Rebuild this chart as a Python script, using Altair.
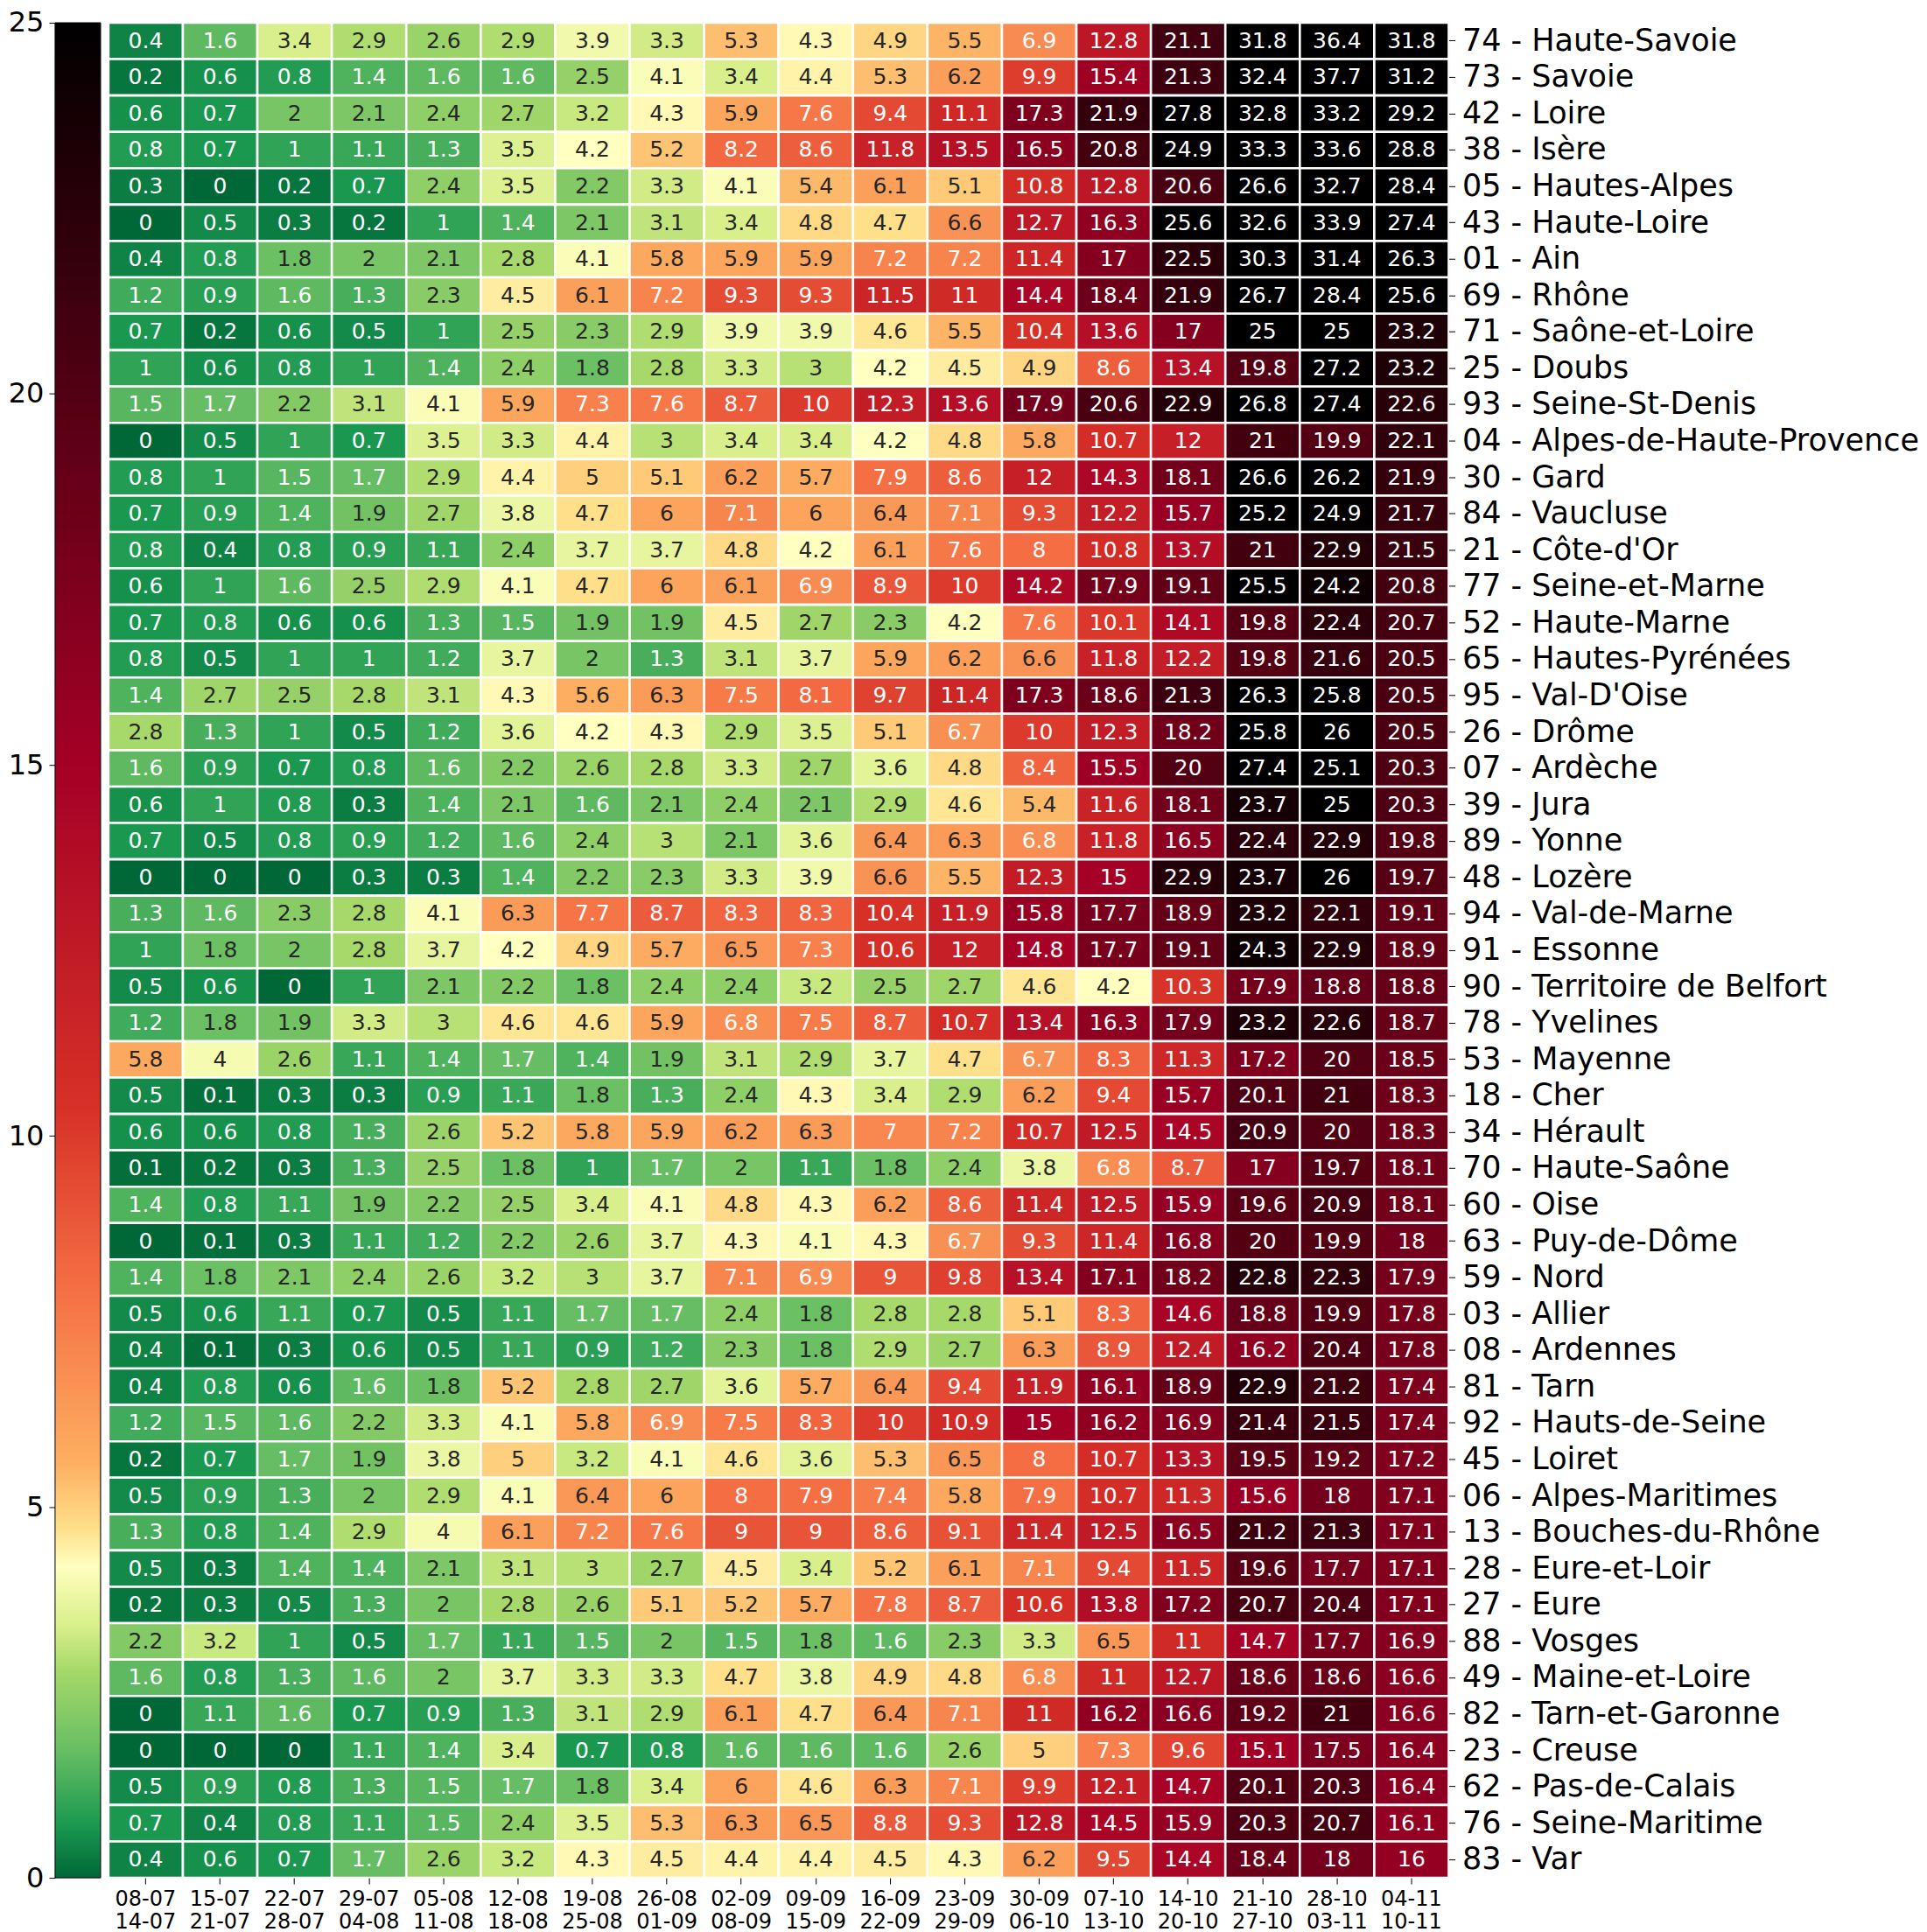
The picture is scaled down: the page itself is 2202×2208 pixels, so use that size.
import altair as alt
import pandas as pd
import numpy as np

week_start = ["08-07", "15-07", "22-07", "29-07", "05-08", "12-08", "19-08", "26-08", "02-09",
              "09-09", "16-09", "23-09", "30-09", "07-10", "14-10", "21-10", "28-10", "04-11"]
week_end = ["14-07", "21-07", "28-07", "04-08", "11-08", "18-08", "25-08", "01-09", "08-09",
            "15-09", "22-09", "29-09", "06-10", "13-10", "20-10", "27-10", "03-11", "10-11"]

departments = [
    "74 - Haute-Savoie", "73 - Savoie", "42 - Loire", "38 - Isère", "05 - Hautes-Alpes",
    "43 - Haute-Loire", "01 - Ain", "69 - Rhône", "71 - Saône-et-Loire", "25 - Doubs",
    "93 - Seine-St-Denis", "04 - Alpes-de-Haute-Provence", "30 - Gard", "84 - Vaucluse",
    "21 - Côte-d'Or", "77 - Seine-et-Marne", "52 - Haute-Marne", "65 - Hautes-Pyrénées",
    "95 - Val-D'Oise", "26 - Drôme", "07 - Ardèche", "39 - Jura", "89 - Yonne", "48 - Lozère",
    "94 - Val-de-Marne", "91 - Essonne", "90 - Territoire de Belfort", "78 - Yvelines",
    "53 - Mayenne", "18 - Cher", "34 - Hérault", "70 - Haute-Saône", "60 - Oise",
    "63 - Puy-de-Dôme", "59 - Nord", "03 - Allier", "08 - Ardennes", "81 - Tarn",
    "92 - Hauts-de-Seine", "45 - Loiret", "06 - Alpes-Maritimes", "13 - Bouches-du-Rhône",
    "28 - Eure-et-Loir", "27 - Eure", "88 - Vosges", "49 - Maine-et-Loire",
    "82 - Tarn-et-Garonne", "23 - Creuse", "62 - Pas-de-Calais", "76 - Seine-Maritime", "83 - Var",
]

incidence = [
    [0.4, 1.6, 3.4, 2.9, 2.6, 2.9, 3.9, 3.3, 5.3, 4.3, 4.9, 5.5, 6.9, 12.8, 21.1, 31.8, 36.4, 31.8],
    [0.2, 0.6, 0.8, 1.4, 1.6, 1.6, 2.5, 4.1, 3.4, 4.4, 5.3, 6.2, 9.9, 15.4, 21.3, 32.4, 37.7, 31.2],
    [0.6, 0.7, 2, 2.1, 2.4, 2.7, 3.2, 4.3, 5.9, 7.6, 9.4, 11.1, 17.3, 21.9, 27.8, 32.8, 33.2, 29.2],
    [0.8, 0.7, 1, 1.1, 1.3, 3.5, 4.2, 5.2, 8.2, 8.6, 11.8, 13.5, 16.5, 20.8, 24.9, 33.3, 33.6, 28.8],
    [0.3, 0, 0.2, 0.7, 2.4, 3.5, 2.2, 3.3, 4.1, 5.4, 6.1, 5.1, 10.8, 12.8, 20.6, 26.6, 32.7, 28.4],
    [0, 0.5, 0.3, 0.2, 1, 1.4, 2.1, 3.1, 3.4, 4.8, 4.7, 6.6, 12.7, 16.3, 25.6, 32.6, 33.9, 27.4],
    [0.4, 0.8, 1.8, 2, 2.1, 2.8, 4.1, 5.8, 5.9, 5.9, 7.2, 7.2, 11.4, 17, 22.5, 30.3, 31.4, 26.3],
    [1.2, 0.9, 1.6, 1.3, 2.3, 4.5, 6.1, 7.2, 9.3, 9.3, 11.5, 11, 14.4, 18.4, 21.9, 26.7, 28.4, 25.6],
    [0.7, 0.2, 0.6, 0.5, 1, 2.5, 2.3, 2.9, 3.9, 3.9, 4.6, 5.5, 10.4, 13.6, 17, 25, 25, 23.2],
    [1, 0.6, 0.8, 1, 1.4, 2.4, 1.8, 2.8, 3.3, 3, 4.2, 4.5, 4.9, 8.6, 13.4, 19.8, 27.2, 23.2],
    [1.5, 1.7, 2.2, 3.1, 4.1, 5.9, 7.3, 7.6, 8.7, 10, 12.3, 13.6, 17.9, 20.6, 22.9, 26.8, 27.4, 22.6],
    [0, 0.5, 1, 0.7, 3.5, 3.3, 4.4, 3, 3.4, 3.4, 4.2, 4.8, 5.8, 10.7, 12, 21, 19.9, 22.1],
    [0.8, 1, 1.5, 1.7, 2.9, 4.4, 5, 5.1, 6.2, 5.7, 7.9, 8.6, 12, 14.3, 18.1, 26.6, 26.2, 21.9],
    [0.7, 0.9, 1.4, 1.9, 2.7, 3.8, 4.7, 6, 7.1, 6, 6.4, 7.1, 9.3, 12.2, 15.7, 25.2, 24.9, 21.7],
    [0.8, 0.4, 0.8, 0.9, 1.1, 2.4, 3.7, 3.7, 4.8, 4.2, 6.1, 7.6, 8, 10.8, 13.7, 21, 22.9, 21.5],
    [0.6, 1, 1.6, 2.5, 2.9, 4.1, 4.7, 6, 6.1, 6.9, 8.9, 10, 14.2, 17.9, 19.1, 25.5, 24.2, 20.8],
    [0.7, 0.8, 0.6, 0.6, 1.3, 1.5, 1.9, 1.9, 4.5, 2.7, 2.3, 4.2, 7.6, 10.1, 14.1, 19.8, 22.4, 20.7],
    [0.8, 0.5, 1, 1, 1.2, 3.7, 2, 1.3, 3.1, 3.7, 5.9, 6.2, 6.6, 11.8, 12.2, 19.8, 21.6, 20.5],
    [1.4, 2.7, 2.5, 2.8, 3.1, 4.3, 5.6, 6.3, 7.5, 8.1, 9.7, 11.4, 17.3, 18.6, 21.3, 26.3, 25.8, 20.5],
    [2.8, 1.3, 1, 0.5, 1.2, 3.6, 4.2, 4.3, 2.9, 3.5, 5.1, 6.7, 10, 12.3, 18.2, 25.8, 26, 20.5],
    [1.6, 0.9, 0.7, 0.8, 1.6, 2.2, 2.6, 2.8, 3.3, 2.7, 3.6, 4.8, 8.4, 15.5, 20, 27.4, 25.1, 20.3],
    [0.6, 1, 0.8, 0.3, 1.4, 2.1, 1.6, 2.1, 2.4, 2.1, 2.9, 4.6, 5.4, 11.6, 18.1, 23.7, 25, 20.3],
    [0.7, 0.5, 0.8, 0.9, 1.2, 1.6, 2.4, 3, 2.1, 3.6, 6.4, 6.3, 6.8, 11.8, 16.5, 22.4, 22.9, 19.8],
    [0, 0, 0, 0.3, 0.3, 1.4, 2.2, 2.3, 3.3, 3.9, 6.6, 5.5, 12.3, 15, 22.9, 23.7, 26, 19.7],
    [1.3, 1.6, 2.3, 2.8, 4.1, 6.3, 7.7, 8.7, 8.3, 8.3, 10.4, 11.9, 15.8, 17.7, 18.9, 23.2, 22.1, 19.1],
    [1, 1.8, 2, 2.8, 3.7, 4.2, 4.9, 5.7, 6.5, 7.3, 10.6, 12, 14.8, 17.7, 19.1, 24.3, 22.9, 18.9],
    [0.5, 0.6, 0, 1, 2.1, 2.2, 1.8, 2.4, 2.4, 3.2, 2.5, 2.7, 4.6, 4.2, 10.3, 17.9, 18.8, 18.8],
    [1.2, 1.8, 1.9, 3.3, 3, 4.6, 4.6, 5.9, 6.8, 7.5, 8.7, 10.7, 13.4, 16.3, 17.9, 23.2, 22.6, 18.7],
    [5.8, 4, 2.6, 1.1, 1.4, 1.7, 1.4, 1.9, 3.1, 2.9, 3.7, 4.7, 6.7, 8.3, 11.3, 17.2, 20, 18.5],
    [0.5, 0.1, 0.3, 0.3, 0.9, 1.1, 1.8, 1.3, 2.4, 4.3, 3.4, 2.9, 6.2, 9.4, 15.7, 20.1, 21, 18.3],
    [0.6, 0.6, 0.8, 1.3, 2.6, 5.2, 5.8, 5.9, 6.2, 6.3, 7, 7.2, 10.7, 12.5, 14.5, 20.9, 20, 18.3],
    [0.1, 0.2, 0.3, 1.3, 2.5, 1.8, 1, 1.7, 2, 1.1, 1.8, 2.4, 3.8, 6.8, 8.7, 17, 19.7, 18.1],
    [1.4, 0.8, 1.1, 1.9, 2.2, 2.5, 3.4, 4.1, 4.8, 4.3, 6.2, 8.6, 11.4, 12.5, 15.9, 19.6, 20.9, 18.1],
    [0, 0.1, 0.3, 1.1, 1.2, 2.2, 2.6, 3.7, 4.3, 4.1, 4.3, 6.7, 9.3, 11.4, 16.8, 20, 19.9, 18],
    [1.4, 1.8, 2.1, 2.4, 2.6, 3.2, 3, 3.7, 7.1, 6.9, 9, 9.8, 13.4, 17.1, 18.2, 22.8, 22.3, 17.9],
    [0.5, 0.6, 1.1, 0.7, 0.5, 1.1, 1.7, 1.7, 2.4, 1.8, 2.8, 2.8, 5.1, 8.3, 14.6, 18.8, 19.9, 17.8],
    [0.4, 0.1, 0.3, 0.6, 0.5, 1.1, 0.9, 1.2, 2.3, 1.8, 2.9, 2.7, 6.3, 8.9, 12.4, 16.2, 20.4, 17.8],
    [0.4, 0.8, 0.6, 1.6, 1.8, 5.2, 2.8, 2.7, 3.6, 5.7, 6.4, 9.4, 11.9, 16.1, 18.9, 22.9, 21.2, 17.4],
    [1.2, 1.5, 1.6, 2.2, 3.3, 4.1, 5.8, 6.9, 7.5, 8.3, 10, 10.9, 15, 16.2, 16.9, 21.4, 21.5, 17.4],
    [0.2, 0.7, 1.7, 1.9, 3.8, 5, 3.2, 4.1, 4.6, 3.6, 5.3, 6.5, 8, 10.7, 13.3, 19.5, 19.2, 17.2],
    [0.5, 0.9, 1.3, 2, 2.9, 4.1, 6.4, 6, 8, 7.9, 7.4, 5.8, 7.9, 10.7, 11.3, 15.6, 18, 17.1],
    [1.3, 0.8, 1.4, 2.9, 4, 6.1, 7.2, 7.6, 9, 9, 8.6, 9.1, 11.4, 12.5, 16.5, 21.2, 21.3, 17.1],
    [0.5, 0.3, 1.4, 1.4, 2.1, 3.1, 3, 2.7, 4.5, 3.4, 5.2, 6.1, 7.1, 9.4, 11.5, 19.6, 17.7, 17.1],
    [0.2, 0.3, 0.5, 1.3, 2, 2.8, 2.6, 5.1, 5.2, 5.7, 7.8, 8.7, 10.6, 13.8, 17.2, 20.7, 20.4, 17.1],
    [2.2, 3.2, 1, 0.5, 1.7, 1.1, 1.5, 2, 1.5, 1.8, 1.6, 2.3, 3.3, 6.5, 11, 14.7, 17.7, 16.9],
    [1.6, 0.8, 1.3, 1.6, 2, 3.7, 3.3, 3.3, 4.7, 3.8, 4.9, 4.8, 6.8, 11, 12.7, 18.6, 18.6, 16.6],
    [0, 1.1, 1.6, 0.7, 0.9, 1.3, 3.1, 2.9, 6.1, 4.7, 6.4, 7.1, 11, 16.2, 16.6, 19.2, 21, 16.6],
    [0, 0, 0, 1.1, 1.4, 3.4, 0.7, 0.8, 1.6, 1.6, 1.6, 2.6, 5, 7.3, 9.6, 15.1, 17.5, 16.4],
    [0.5, 0.9, 0.8, 1.3, 1.5, 1.7, 1.8, 3.4, 6, 4.6, 6.3, 7.1, 9.9, 12.1, 14.7, 20.1, 20.3, 16.4],
    [0.7, 0.4, 0.8, 1.1, 1.5, 2.4, 3.5, 5.3, 6.3, 6.5, 8.8, 9.3, 12.8, 14.5, 15.9, 20.3, 20.7, 16.1],
    [0.4, 0.6, 0.7, 1.7, 2.6, 3.2, 4.3, 4.5, 4.4, 4.4, 4.5, 4.3, 6.2, 9.5, 14.4, 18.4, 18, 16],
]

colorbar_ticks = [0, 5, 10, 15, 20, 25]

# colour scale (green -> yellow -> red -> black)
scale_domain = [0, 0.7, 1.7, 2.8, 3.4, 4.2, 4.7, 5.6, 8.0, 10.4, 15, 25]
scale_range = ["#006837", "#1a9850", "#66bd63", "#a6d96a", "#d9ef8b", "#ffffbf",
               "#fee08b", "#fdae61", "#f46d43", "#d73027", "#a50026", "#000000"]

week_keys = [f"{s}|{e}" for s, e in zip(week_start, week_end)]

rows = []
for dept, vals in zip(departments, incidence):
    for wk, v in zip(week_keys, vals):
        rows.append({"dept": dept, "week": wk, "v": v, "label": f"{v:g}"})
df = pd.DataFrame(rows)


# text colour: dark on light cells, white on dark ones (relative luminance rule)
def _rgb(h):
    h = h.lstrip("#")
    return np.array([int(h[i:i + 2], 16) for i in (0, 2, 4)], dtype=float)


def _color_at(v):
    v = min(max(v, scale_domain[0]), scale_domain[-1])
    for k in range(len(scale_domain) - 1):
        a, b = scale_domain[k], scale_domain[k + 1]
        if a <= v <= b:
            t = (v - a) / (b - a)
            return _rgb(scale_range[k]) * (1 - t) + _rgb(scale_range[k + 1]) * t
    return _rgb(scale_range[-1])


def _lum(rgb):
    c = rgb / 255.0
    c = np.where(c <= 0.03928, c / 12.92, ((c + 0.055) / 1.055) ** 2.4)
    return 0.2126 * c[0] + 0.7152 * c[1] + 0.0722 * c[2]


grid = np.round(np.arange(0, 40.001, 0.01), 2)
dark = [g for g in grid if _lum(_color_at(g)) > 0.408]
lo_t, hi_t = min(dark), max(dark)

color_scale = alt.Scale(domain=scale_domain, range=scale_range, interpolate="rgb", clamp=True)

x_enc = alt.X("week:N", sort=week_keys,
              axis=alt.Axis(title=None, labelExpr="split(datum.value, '|')", labelAngle=0,
                            labelFontSize=24, labelLineHeight=27, tickSize=7, labelPadding=5,
                            domain=False, labelColor="black", tickColor="black",
                            labelFont="DejaVu Sans"))
y_enc = alt.Y("dept:N", sort=departments,
              axis=alt.Axis(title=None, orient="right", labelFontSize=35, tickSize=7,
                            labelPadding=8, domain=False, labelColor="black",
                            tickColor="black", labelLimit=2000, labelFont="DejaVu Sans"))

rects = alt.Chart(df).mark_rect(stroke="white", strokeWidth=2.6).encode(
    x=x_enc, y=y_enc,
    color=alt.Color("v:Q", scale=color_scale, legend=None),
)
texts = alt.Chart(df).mark_text(fontSize=25, font="DejaVu Sans", baseline="middle").encode(
    x=x_enc, y=y_enc,
    text="label:N",
    color=alt.condition(f"datum.v >= {lo_t} && datum.v <= {hi_t}",
                        alt.value("#262626"), alt.value("white")),
)
heatmap = alt.layer(rects, texts).properties(width=1533, height=2122)

stops = [{"offset": d / scale_domain[-1], "color": c} for d, c in zip(scale_domain, scale_range)]
cb_df = pd.DataFrame({"lo": [colorbar_ticks[0]], "hi": [colorbar_ticks[-1]]})
colorbar = alt.Chart(cb_df).mark_rect(
    fill={"gradient": "linear", "x1": 0, "y1": 1, "x2": 0, "y2": 0, "stops": stops},
    stroke="black", strokeWidth=1,
).encode(
    y=alt.Y("lo:Q", scale=alt.Scale(domain=[colorbar_ticks[0], colorbar_ticks[-1]], nice=False),
            axis=alt.Axis(values=colorbar_ticks, orient="left", title=None, labelFontSize=32,
                          tickSize=7, labelPadding=6, domain=False, grid=False,
                          labelColor="black", tickColor="black", labelFont="DejaVu Sans")),
    y2="hi:Q",
).properties(width=52, height=2122)

chart = alt.hconcat(colorbar, heatmap, spacing=6).configure_view(stroke=None).configure(
    font="DejaVu Sans", background="white", padding=0
)

chart.save("out.html", embed_options={"renderer": "svg", "actions": False})
